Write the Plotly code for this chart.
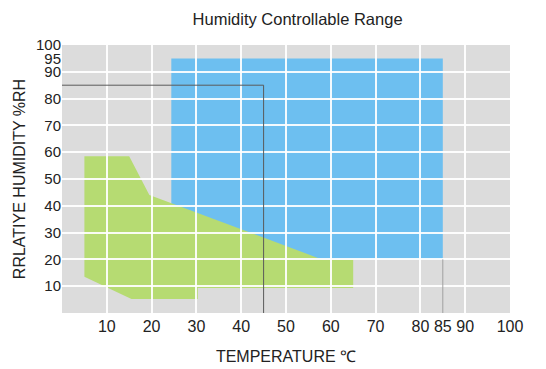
import plotly.graph_objects as go

# Axis ticks
x_tick_vals = [10, 20, 30, 40, 50, 60, 70, 80, 85, 90, 100]
x_tick_text = ["10", "20", "30", "40", "50", "60", "70", "80", "85", "90", "100"]
y_tick_vals = [10, 20, 30, 40, 50, 60, 70, 80, 90, 95, 100]
y_tick_text = ["10", "20", "30", "40", "50", "60", "70", "80", "90", "95", "100"]
x_grid = [10, 20, 30, 40, 50, 60, 70, 80, 90]
y_grid = [10, 20, 30, 40, 50, 60, 70, 80, 90]

# Humidity region (blue rectangle): temperature 25-85, humidity 20-95
blue_x = [24.4, 85, 85, 24.4]
blue_y = [20, 20, 95, 95]

# Low-temperature humidity region (green polygon)
green_x = [5, 15, 19.5, 58, 65, 65, 30.3, 30.3, 15.5, 5]
green_y = [58.5, 58.5, 44, 20, 20, 9.3, 9.3, 5.2, 5.2, 13.5]

# Reference lines
ref1_x = [0, 45, 45]
ref1_y = [85, 85, 0]
ref2_x = [85, 85]
ref2_y = [20, -1.5]


def path(xs, ys, close=True):
    p = "M " + " L ".join(f"{x},{y}" for x, y in zip(xs, ys))
    return p + (" Z" if close else "")


fig = go.Figure()
fig.add_trace(go.Scatter(x=[0, 100], y=[0, 100], mode="markers",
                         marker=dict(opacity=0), hoverinfo="skip", showlegend=False))

fig.add_shape(type="path", path=path(blue_x, blue_y), xref="x", yref="y",
              fillcolor="#6dbff0", line=dict(width=0), layer="below")
fig.add_shape(type="path", path=path(green_x, green_y), xref="x", yref="y",
              fillcolor="#b6db72", line=dict(width=0), layer="below")
fig.add_shape(type="path", path=path(ref1_x, ref1_y, close=False), xref="x", yref="y",
              line=dict(color="#5a5a5a", width=1), layer="above")
fig.add_shape(type="path", path=path(ref2_x, ref2_y, close=False), xref="x", yref="y",
              line=dict(color="#a0a0a0", width=1), layer="above")

font_family = "Liberation Sans, Arial, sans-serif"

fig.update_layout(
    width=546, height=369,
    margin=dict(l=62, r=36, t=45, b=56),
    paper_bgcolor="white",
    plot_bgcolor="#dcdcdc",
    showlegend=False,
    title=dict(text="Humidity Controllable Range", x=0.545, xanchor="center",
               y=0.948, yanchor="middle",
               font=dict(family=font_family, size=16.5, color="#222")),
    font=dict(family=font_family, color="#222"),
)

fig.update_xaxes(
    range=[0, 100], showgrid=False, zeroline=False, showline=False, ticks="",
    automargin=False,
    tickmode="array", tickvals=x_tick_vals, ticktext=x_tick_text,
    tickfont=dict(size=16, color="#222"), ticklabelstandoff=2,
    minor=dict(tickmode="array", tickvals=x_grid, showgrid=True,
               gridcolor="rgba(255,255,255,0.92)", gridwidth=1.5, ticks=""),
    title=dict(text="TEMPERATURE ℃", font=dict(size=16, color="#222"), standoff=16),
    fixedrange=True,
)
fig.update_yaxes(
    range=[0, 100], showgrid=False, zeroline=False, showline=False, ticks="",
    automargin=False,
    tickmode="array", tickvals=y_tick_vals, ticktext=y_tick_text,
    tickfont=dict(size=15, color="#222"),
    minor=dict(tickmode="array", tickvals=y_grid, showgrid=True,
               gridcolor="rgba(255,255,255,0.92)", gridwidth=1.5, ticks=""),
    title=dict(text="RRLATIYE HUMIDITY %RH", font=dict(size=16, color="#222"), standoff=6),
    fixedrange=True,
)

fig.write_html("out.html")
